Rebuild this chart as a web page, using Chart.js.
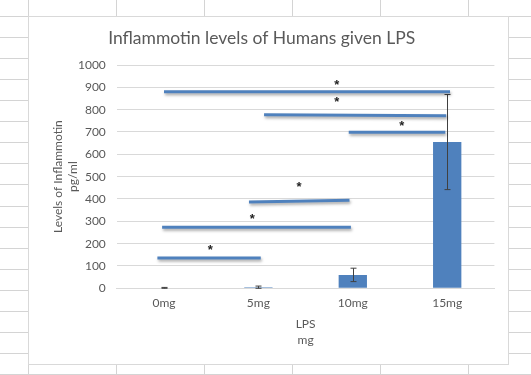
<!DOCTYPE html>
<html>
<head>
<meta charset="utf-8">
<script src="https://cdn.jsdelivr.net/npm/chart.js@4"></script>
<style>
  body { margin: 0; width: 531px; height: 375px; background: #ffffff; position: relative; overflow: hidden; }
  .gl { position: absolute; background: #d4d4d4; }
  #box { position: absolute; left: 28px; top: 16px; width: 481px; height: 349px; box-sizing: border-box; border: 1px solid #d9d9d9; background: #ffffff; }
  #box canvas { position: absolute; left: 0; top: 0; }
</style>
</head>
<body>
<div id="box"><canvas id="lpsChart" width="479" height="347"></canvas></div>
<script>
// categories and values
const categories = ['0mg', '5mg', '10mg', '15mg'];
const means = [2, 5, 60, 655];
const errors = [2, 5, 30, 213];

// significance lines (x in category units, y in pg/ml)
const sigX1 = [0.0, 1.06, 1.957, 0.90, -0.02, -0.07];
const sigX2 = [3.03, 2.99, 2.98, 1.965, 1.98, 1.025];
const sigY1 = [880, 777, 699, 387, 273, 136];
const sigY2 = [880, 773, 699, 394, 273, 136];

// asterisks above the lines
const starX = [1.83, 1.83, 2.52, 1.43, 0.935, 0.49];
const starY = [922, 848, 738, 463, 321, 184];

// spreadsheet grid behind the chart
const colLines = [28, 116, 204, 292, 380, 468];
for (const x of colLines) {
  const d = document.createElement('div');
  d.className = 'gl';
  d.style.cssText = 'left:' + x + 'px;top:0;width:1px;height:375px';
  document.body.insertBefore(d, document.body.firstChild);
}
for (let k = 0; k < 18; k++) {
  const d = document.createElement('div');
  d.className = 'gl';
  d.style.cssText = 'left:0;top:' + Math.round(16 + k * 21.06) + 'px;width:531px;height:1px';
  document.body.insertBefore(d, document.body.firstChild);
}

const blue = '#4f81bd';
const grey = '#595959';
const font = "Lato, 'Open Sans', sans-serif";

// error bars on top of the columns
const errorBars = {
  id: 'errorBars',
  afterDatasetDraw(chart, args) {
    if (args.index !== 0) return;
    const ctx = chart.ctx;
    const y = chart.scales.y;
    const meta = chart.getDatasetMeta(0);
    ctx.save();
    ctx.strokeStyle = '#404040';
    ctx.lineWidth = 1;
    meta.data.forEach((bar, i) => {
      const x = Math.round(bar.x) + 0.5;
      const top = y.getPixelForValue(means[i] + errors[i]);
      const bot = y.getPixelForValue(Math.max(means[i] - errors[i], 0));
      ctx.beginPath();
      ctx.moveTo(x, top); ctx.lineTo(x, bot);
      ctx.moveTo(x - 3, top); ctx.lineTo(x + 3, top);
      ctx.moveTo(x - 3, bot); ctx.lineTo(x + 3, bot);
      ctx.stroke();
    });
    ctx.restore();
  }
};

// soft shadow under the drawn lines, like the spreadsheet shapes
const lineShadow = {
  id: 'lineShadow',
  beforeDatasetDraw(chart, args) {
    if (args.index === 0) return;
    const ctx = chart.ctx;
    ctx.save();
    ctx.shadowColor = 'rgba(0,0,0,0.35)';
    ctx.shadowBlur = 3;
    ctx.shadowOffsetX = 1;
    ctx.shadowOffsetY = 2;
  },
  afterDatasetDraw(chart, args) {
    if (args.index === 0) return;
    chart.ctx.restore();
  }
};

// asterisks as text placed through the scales
const stars = {
  id: 'stars',
  afterDatasetsDraw(chart) {
    const ctx = chart.ctx;
    const xs = chart.scales.xs;
    const y = chart.scales.y;
    ctx.save();
    ctx.fillStyle = '#222222';
    ctx.font = "bold 13px 'Liberation Sans', sans-serif";
    ctx.textAlign = 'center';
    ctx.textBaseline = 'middle';
    starX.forEach((v, i) => {
      ctx.fillText('*', xs.getPixelForValue(v), y.getPixelForValue(starY[i]) + 3);
    });
    ctx.restore();
  }
};

const datasets = [{
  type: 'bar',
  data: means,
  backgroundColor: blue,
  barPercentage: 0.3,
  categoryPercentage: 1,
  grouped: false,
  xAxisID: 'x',
  order: 1
}];
sigX1.forEach((x1, i) => {
  datasets.push({
    type: 'line',
    data: [{ x: x1, y: sigY1[i] }, { x: sigX2[i], y: sigY2[i] }],
    borderColor: blue,
    borderWidth: 3,
    pointRadius: 0,
    fill: false,
    xAxisID: 'xs',
    order: 0
  });
});

new Chart(document.getElementById('lpsChart').getContext('2d'), {
  type: 'bar',
  data: { labels: categories, datasets: datasets },
  plugins: [errorBars, lineShadow, stars],
  options: {
    responsive: false,
    animation: false,
    layout: { padding: { top: 0, right: 13.6, bottom: 0, left: 0 } },
    plugins: {
      legend: { display: false },
      tooltip: { enabled: false },
      title: {
        display: true,
        text: 'Inflammotin levels of Humans given LPS',
        color: grey,
        font: { family: font, size: 17.5, weight: 'normal', lineHeight: 21.6 / 17.5 },
        padding: { top: 11, bottom: 15.4 }
      }
    },
    scales: {
      x: {
        type: 'category',
        grid: { display: false, drawTicks: false },
        border: { display: true, color: '#d9d9d9' },
        ticks: { color: grey, font: { family: font, size: 12 }, padding: 8 },
        title: {
          display: true,
          text: ['LPS', 'mg'],
          color: grey,
          font: { family: font, size: 12, lineHeight: 16 / 12 },
          padding: { top: 0, bottom: 16 }
        },
        afterFit(scale) { scale.height = 75.7; }
      },
      xs: { type: 'linear', min: -0.5, max: 3.5, offset: false, display: false },
      y: {
        min: 0,
        max: 1000,
        grid: { color: '#d9d9d9', drawTicks: false },
        border: { display: false },
        ticks: {
          stepSize: 100,
          color: grey,
          font: { family: font, size: 12 },
          padding: 11,
          callback: (v) => String(v)
        },
        title: {
          display: true,
          text: ['Levels of Inflammotin', 'pg/ml'],
          color: grey,
          font: { family: font, size: 12, lineHeight: 15 / 12 },
          padding: { top: 21.8, bottom: 0 }
        },
        afterFit(scale) { scale.width = 87.8; }
      }
    }
  }
});
</script>
</body>
</html>
